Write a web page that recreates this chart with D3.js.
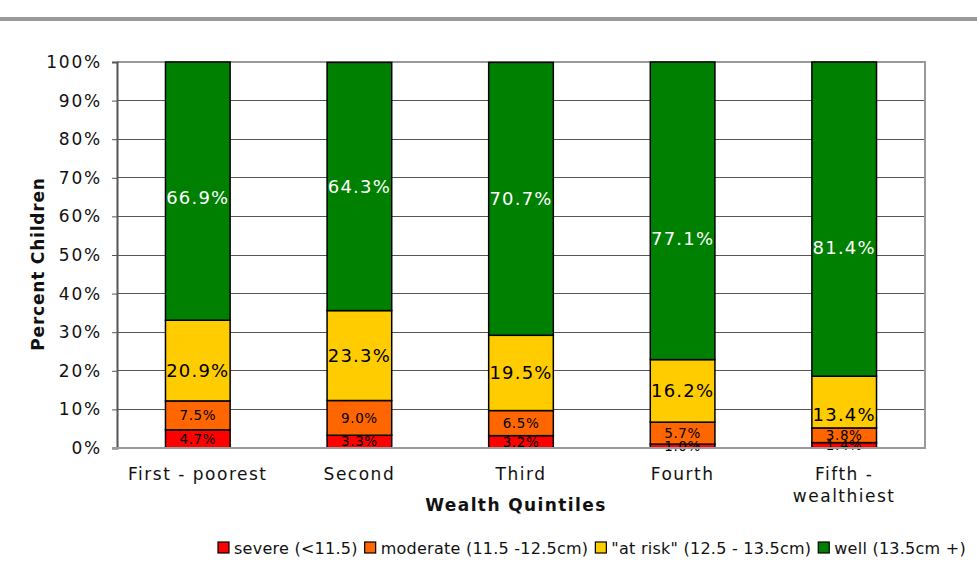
<!DOCTYPE html>
<html>
<head>
<meta charset="utf-8">
<script src="https://cdn.jsdelivr.net/npm/d3@7"></script>
<style>
  html, body { margin: 0; padding: 0; background: #fff; }
  svg { display: block; font-family: "DejaVu Sans", Verdana, sans-serif; }
</style>
</head>
<body>
<svg id="chart" width="977" height="583"></svg>
<script>
// Wealth quintiles and nutrition status shares (percent of children)
const quintiles = ["First - poorest", "Second", "Third", "Fourth", "Fifth - wealthiest"];
const statusNames = ["severe (<11.5)", "moderate (11.5 -12.5cm)", "\"at risk\" (12.5 - 13.5cm)", "well (13.5cm +)"];
const severe   = [4.7, 3.3, 3.2, 1.0, 1.4];
const moderate = [7.5, 9.0, 6.5, 5.7, 3.8];
const atRisk   = [20.9, 23.3, 19.5, 16.2, 13.4];
const well     = [66.9, 64.3, 70.7, 77.1, 81.4];
const yTicks   = [0, 10, 20, 30, 40, 50, 60, 70, 80, 90, 100];

const colors = ["#FF0000", "#FF6600", "#FFCC00", "#008000"];
const series = [severe, moderate, atRisk, well];

// a few labels sit a little below their segment's centre
const labelNudge = { "0-2": 10, "0-3": 6, "3-3": 28, "4-2": 12, "4-3": 28 };

const svg = d3.select("#chart");
const W = 977;

// header rule
svg.append("rect").attr("x", 0).attr("y", 17).attr("width", W).attr("height", 4).attr("fill", "#999");

const m = { left: 117, right: 925, top: 62, bottom: 448 };

const x = d3.scaleBand().domain(quintiles).range([m.left, m.right]).paddingInner(0.6).paddingOuter(0.3);
const y = d3.scaleLinear().domain([0, 100]).range([m.bottom, m.top]);

// gridlines
svg.append("g").selectAll("line").data(yTicks.filter(t => t > 0 && t < 100)).join("line")
  .attr("x1", m.left).attr("x2", m.right)
  .attr("y1", d => y(d)).attr("y2", d => y(d))
  .attr("stroke", "#555").attr("stroke-width", 1).attr("shape-rendering", "crispEdges");

// plot frame: top and right in light gray
svg.append("path")
  .attr("d", `M${m.left},${y(100)}H${m.right}V${y(0)}`)
  .attr("fill", "none").attr("stroke", "#999").attr("stroke-width", 2);

// stacked data
const stackData = quintiles.map((q, i) => {
  let acc = 0;
  return series.map((s, k) => {
    const y0 = acc; acc += s[i];
    return { q, i, k, v: s[i], y0, y1: acc };
  });
});

const bars = svg.append("g");
stackData.forEach(col => {
  col.forEach(d => {
    bars.append("rect")
      .attr("x", x(d.q)).attr("width", x.bandwidth())
      .attr("y", y(d.y1)).attr("height", y(d.y0) - y(d.y1))
      .attr("fill", colors[d.k])
      .attr("stroke", "#000").attr("stroke-width", 1.5);
  });
});

// value labels
const labels = svg.append("g");
stackData.forEach(col => {
  col.forEach(d => {
    const big = d.k >= 2;
    const nudge = labelNudge[d.i + "-" + d.k] || 0;
    labels.append("text")
      .attr("x", x(d.q) + x.bandwidth() / 2)
      .attr("y", (y(d.y0) + y(d.y1)) / 2 + nudge)
      .attr("dy", "0.36em")
      .attr("text-anchor", "middle")
      .attr("font-size", big ? 18 : 13.5)
      .attr("letter-spacing", big ? 1.2 : 0.6)
      .attr("fill", d.k === 3 ? "#fff" : "#000")
      .text(d.v.toFixed(1) + "%");
  });
});

// y axis
const yAxis = svg.append("g").attr("transform", `translate(${m.left},0)`)
  .call(d3.axisLeft(y).tickValues(yTicks).tickSize(5).tickPadding(10).tickFormat(d => d + "%"));
yAxis.select(".domain").attr("stroke", "#555").attr("stroke-width", 2);
yAxis.selectAll(".tick line").attr("stroke", "#555");
yAxis.selectAll("text").attr("font-size", 17).attr("letter-spacing", 1.8)
  .attr("fill", "#111").attr("font-family", "DejaVu Sans, sans-serif");

// x axis baseline
svg.append("line").attr("x1", m.left - 5).attr("x2", m.right + 1)
  .attr("y1", y(0)).attr("y2", y(0)).attr("stroke", "#999").attr("stroke-width", 2);

// category labels (the last one wraps onto two lines)
const catG = svg.append("g");
quintiles.forEach(q => {
  const lines = q === "Fifth - wealthiest" ? ["Fifth -", "wealthiest"] : [q];
  const cx = x(q) + x.bandwidth() / 2;
  const t = catG.append("text")
    .attr("x", cx).attr("y", 480)
    .attr("text-anchor", "middle").attr("font-size", 17).attr("letter-spacing", 1.5).attr("fill", "#111");
  lines.forEach((l, j) => t.append("tspan").attr("x", cx).attr("dy", j ? 22 : 0).text(l));
});

// axis titles
svg.append("text").attr("x", 516).attr("y", 511).attr("text-anchor", "middle")
  .attr("font-size", 17).attr("letter-spacing", 1.4).attr("font-weight", "bold").attr("fill", "#111")
  .text("Wealth Quintiles");
svg.append("text").attr("transform", "translate(44,264) rotate(-90)")
  .attr("text-anchor", "middle").attr("font-size", 17).attr("letter-spacing", 0.8)
  .attr("font-weight", "bold").attr("fill", "#111")
  .text("Percent Children");

// legend
const legend = svg.append("g").attr("transform", "translate(218,548)");
let lx = 0;
statusNames.forEach((name, k) => {
  const g = legend.append("g").attr("transform", `translate(${lx},0)`);
  g.append("rect").attr("x", 0).attr("y", -6).attr("width", 11).attr("height", 11)
    .attr("fill", colors[k]).attr("stroke", "#000").attr("stroke-width", 1.2);
  const t = g.append("text").attr("x", 16).attr("y", 0).attr("dy", "0.35em")
    .attr("font-size", 16).attr("letter-spacing", 0.25).attr("fill", "#111").text(name);
  lx += 16 + t.node().getComputedTextLength() + 7;
});
</script>
</body>
</html>
